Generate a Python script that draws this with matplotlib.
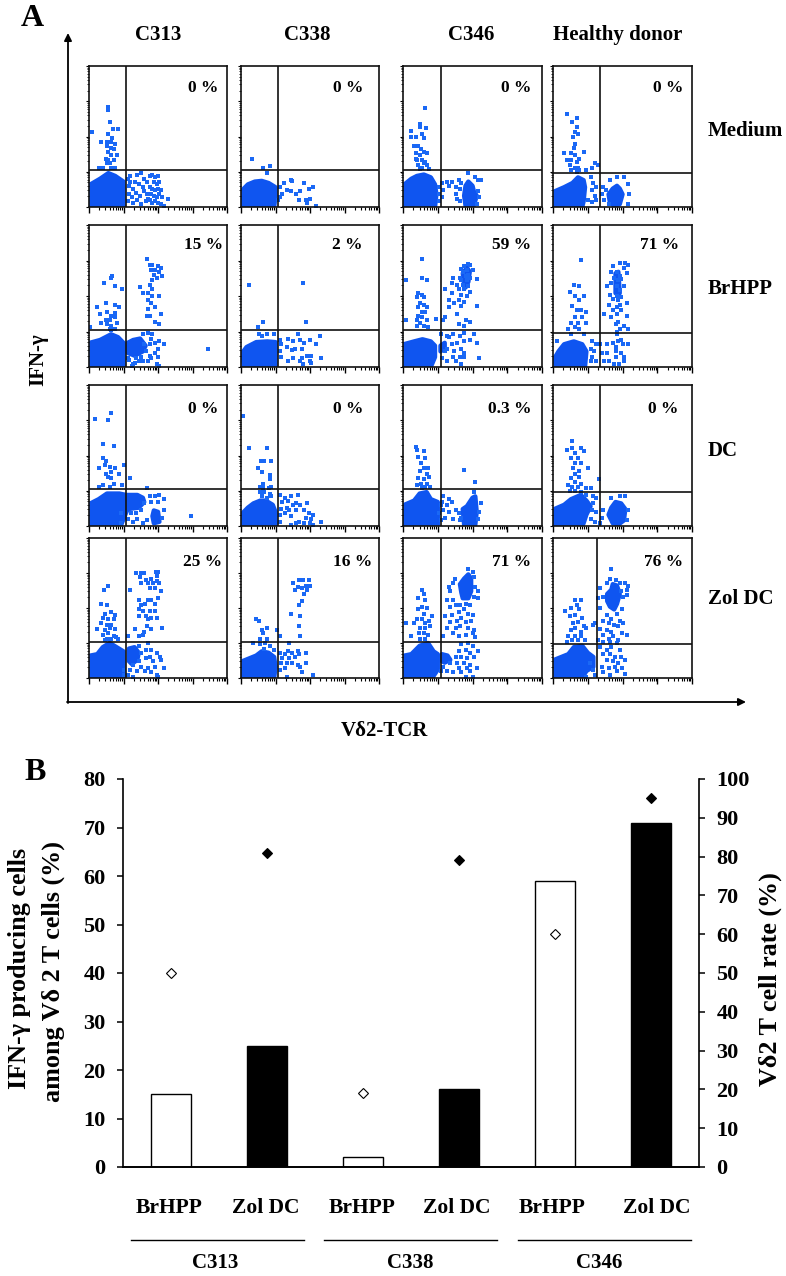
import numpy as np
import matplotlib
matplotlib.use("Agg")
import matplotlib.pyplot as plt

plt.rcParams['font.family'] = ['Liberation Serif', 'DejaVu Serif']
plt.rcParams['font.weight'] = 'bold'

W, H = 786, 1276
BLUE = "#0f55f0"

# ---- panel B values ----
cats = ["BrHPP", "Zol DC", "BrHPP", "Zol DC", "BrHPP", "Zol DC"]
groups = ["C313", "C338", "C346"]
ifn_pct = [15, 25, 2, 16, 59, 71]
vd2_rate = [50, 81, 19, 79, 60, 95]
bar_fill = ["white", "black", "white", "black", "white", "black"]

# ---- panel A labels ----
donors = ["C313", "C338", "C346", "Healthy donor"]
stimuli = ["Medium", "BrHPP", "DC", "Zol DC"]
pct_labels = [["0 %", "0 %", "0 %", "0 %"],
              ["15 %", "2 %", "59 %", "71 %"],
              ["0 %", "0 %", "0.3 %", "0 %"],
              ["25 %", "16 %", "71 %", "76 %"]]

# quadrant gates, in channel units 0-100
gate_x = [[26.5, 26.5, 27, 33.5], [26.5, 26.5, 27, 33.5],
          [26.5, 26.5, 27, 33.5], [26.5, 26.5, 27, 32]]
gate_y = [[26, 26, 26, 24], [26, 26, 26, 24], [26, 26, 26, 24], [26, 26, 26, 24]]

# ---- events (V-delta2 channel, IFN-g channel) ----
med_c313_blobs = [[(1,0),(1,16),(8,20),(14,24),(19,22),(25,18),(25,0)]]
med_c313_dots = [(14,71),(14,69),(15,60),(2,53),(17.6,55),(20.8,55),(14,52),(17,49),(9,46),(13,46),(16,46),(19,45),
    (13,43),(16,42),(18,41),(14,39),(20,37),(16,37),(12,34),(14,33),(18,33),(13,31),(15,31),(10,28),(16,28),(19,28),(7,28),
    (28,20),(30,22),(33,18),(35,23),(38,24),(29,15),(32,13),(36,16),(40,20),(42,18),(44,22),(46,23),(48,21),(50,22),(47,18),
    (49,16),(51,18),(44,14),(46,13),(48,12),(50,13),(52,12),(29,9),(31,7),(34,10),(37,8),(40,11),(42,9),(45,9),(47,8),(49,7),
    (51,9),(53,7),(28,4),(32,3),(35,5),(38,2),(41,4),(44,5),(46,3),(48,4),(50,3),(52,2),(54,1),(57,6),(30,18),(39,14),(43,6)]

med_c338_blobs = [[(1,2),(1,12),(5,16),(10,18),(15,18.5),(20,17),(25,14),(25,8),(24,0),(3,0)]]
med_c338_dots = [(8,34),(16,28),(21,29),(19,24),(28.5,14),(31,17),(36,19),(37,18.5),(33,12),(36,11),(40,9),(43,11),(46,17),
    (49,13),(52,14),(50,6),(47,5),(48,3),(54,1),(42,5),(28,7),(30,9),(27,5)]

med_c346_blobs = [[(1,0),(1,16),(6,20),(10,22),(15,23),(20,21),(23,16),(24,9),(23,0)],
    [(45,1),(44,8),(45,15),(47,18),(50,15),(51,11),(53,8),(51,1)]]
med_c346_dots = [(15.6,70),(12,59),(12,57),(16.5,56),(6,54),(6,50),(9.6,50),(13.7,52),(15,49),(8,43),(11,43),(13,41),(15,39),
    (9,38),(12,37),(17,38),(10,33),(14,33),(16,32),(11,30),(14,28),(17,30),(12.5,27),(19,27),(15,31),(9,34),(28,17),(32,18),
    (35,18),(40,19),(29,12),(33,15),(38,14),(41,13),(28,7),(38,9),(39,6),(41,4),(54,19),(56,19),(54,11),(55,7),(53,2),(26,14),
    (26,9),(26,4),(47,24),(52,21),(42,17)]

med_hd_blobs = [[(1,0),(1,11),(8,14),(14,17),(18,21),(22,19),(23,14),(22,4),(21,0)],
    [(41,3),(40,9),(43,13),(46,15),(48,13),(50,9),(48,2),(44,1)]]
med_hd_dots = [(10,66),(14,60),(17.6,63),(17,57),(16,53),(18,52),(14.5,50),(16,45),(15,42),(8,38),(13,38),(16,37),(22,39),
    (10,33),(13,33),(17,32),(19,34),(12,30),(16,28),(18,28),(13,26),(17,25),(19,26),(30,31),(32.5,30),(28,28),(24,26),(27,21),
    (29,17),(31,14),(28,12),(30,8),(25,5),(28,3.5),(31,5),(36,14),(35,9),(38,12),(37,5),(40,2),(54,16),(55,9),(54,2),(51,21),
    (41,19),(46,21)]

br_c313_blobs = [[(0.5,0),(0.5,17),(8,19),(16,23),(21,21),(25,17),(25,0)],
    [(28,10),(28,17),(32,19),(37,20),(41,15),(39,11),(33,8)]]
br_c313_dots = [(42,76),(44,72),(46,72),(50,71),(52,70),(45,68),(48,68),(51,67),(53,64),(47,65),(49,63),(46,61),(44,58),(37,56),
    (46,55),(43,52),(39,52),(46,50),(51,50),(43,47),(45,45),(48,42),(43,41),(52,37),(42,36),(44,36),(48,32),(51,30),
    (16,63),(17,64),(11,59),(19,57),(24,55),(12,45),(6,42),(19,44),(22,42),(8,37),(13,39),(19,38),(16,36),(12,33),(15,33),(19,35),
    (9,31),(13,30),(16,29),(20,31),(1,28),(15,27),(16,26),(19,27),(39,23),(43,24),(45,20),(48,17),(51,18),(54,16),(50,13),(48,10),
    (44,8),(41,11),(38,7),(39,4),(43,4),(45,6),(50,7),(49,2),(51,1),(32,2),(34,6),(29,5),(33,3),(36,4),(86,13),(28,6),(31,1),(40,16),
    (44,16),(46,23)]

br_c338_blobs = [[(1,10),(4,14),(11,17.5),(19,18),(25,17.5),(25,0),(2,0)]]
br_c338_dots = [(6,58),(45,59),(47,32),(16,32),(12,28),(13,23),(15,22),(19,23),(24,23),(28,19),(29,16),(28,11),(29,7),(34,20),
    (38,18),(41,23),(43,19),(46,17),(50,19),(57,22),(54,16),(37,12),(33,14),(39,13),(44,13),(34,4),(38,6),(44,6),(47.5,8),(51,8),
    (58,6),(50,4),(45,2),(43,4),(51,3)]

br_c346_blobs = [[(0.5,0),(0.5,16),(8,18),(14,19.5),(20,18),(23,15),(23,7),(20,0)],
    [(27,11),(27,15),(30,17),(30,13)],
    [(44,58),(43,66),(46,70),(48,67),(47,60),(45,56)]]
br_c346_dots = [(46.5,72.5),(48,72),(44,71),(42,69),(46,68.5),(50,68.5),(43,67),(47,65),(45,64),(41,63),(36,63),(48,62.5),(53,62),
    (42,61),(46,61),(35,59),(39,58),(43,58),(47,57),(30,55),(40,55),(44,55),(48,53),(35,52),(42,51),(46,50),(33,47),(40,47),(44,46),
    (37,45),(53,43),(42,43),(33,42),(39,37),(30,35),(45,33),(40,30),(44,29),(48,32),(29,33),(14,76),(14,63),(2,61),(17,61),(11,52),
    (14,51),(10,49),(15,49),(12,45),(15,44),(11,42),(17,42),(14,39),(16,39),(11,36),(14,35),(10,33),(17,33),(12,31),(15,29),(2,33),
    (18,28),(10,29),(24,34),(32,22),(36,23),(41,22),(44,24),(48,19),(51,23),(53,17),(44,18),(39,17),(35,16),(32,13),(42,13),(37,11),
    (30,11),(44,10),(41,7),(36,7),(44,7),(38,4),(32,4),(42,2),(55,6),(28,6),(33,21),(27,23)]

br_hd_blobs = [[(1,6),(4,11),(8,16),(15,18),(21,16),(24,11),(23,0),(2,0)],
    [(45,52),(45,66),(47,67),(48,52)]]
br_hd_dots = [(20,75.5),(52,73),(48,73),(54,72),(43,71),(51,69.5),(46,67),(42,67),(53,66),(48,64),(44,63),(47,61),(49,62),(42,59),
    (38.5,57),(46,57),(51,57),(48,54),(41,51),(46,50),(49,49),(43,48),(47,47),(40,44),(48,44),(53,45),(46,42),(43,40),(49,40),(37,37),
    (46,37),(53,36),(42,35),(47,32),(45,30),(51,29),(48,27),(54,27),(46,25),(15,58),(19,57),(12,53),(22,50),(16,50),(19,47),(14,43),
    (17,40),(20,40),(24,39),(21,35),(16,35),(13,31),(18,31),(16,28),(19,27),(13,23),(22,23),(11,27),(24,31),(3,18),(28,18),(31,16),
    (27,13),(29.5,11),(28,7),(31,4),(27,4),(34,16),(39,16),(43,17),(35.5,10),(39,10),(45,11),(47,18),(50,16),(45,14),(49,19),(49,10),
    (51,7),(45,7),(47.5,2),(51,4),(44,2),(54,16),(46,23),(40,4),(37,4)]

dc_c313_blobs = [[(1,0),(1,16),(7,19),(13,23),(22,23),(27,22),(35,22),(39,20),(40,17),(36,13),(28,12),(25,5),(23,0)],
    [(47,2),(46,7),(47,11),(50,10),(51,3)]]
dc_c313_dots = [(16,80),(14,75),(4.5,76),(10,58),(18,57),(10,48),(12,46),(7.5,41),(15,42),(11.5,43),(19,41),(25,43),(16,38),(12,37),
    (22,37),(14,35),(16,34),(30,34),(10,29),(7,28),(18,30),(24,29),(15,28),(74,7),(42,27),(54,19),(51,22),(48,21),(44,21),(40,16),
    (45,17),(50,17),(38,11),(34,9),(30.5,9),(28,5),(32,3),(35,5),(39,2),(42,4),(23,9),(23,2),(54,11),(53,6)]

dc_c338_blobs = [[(1,0),(1,9),(5,13),(9,16),(14,18),(18,18),(23,15),(25,10),(25,0)]]
dc_c338_dots = [(1.5,78),(6,55),(19,55),(14.5,46),(17,46),(22,46),(12,41),(15,38),(21,36),(21,33),(16,30),(14,28),(16,27),(20,27),
    (22,28),(14,24),(17,24),(21,23),(15,21),(19,20),(22,21),(28,22),(32,20),(36,21),(41,22),(30,17),(34,18),(38,15),(40,16),(43,15),
    (48,16),(29,12),(33,13),(35,11),(40,11),(46,11),(49.5,9),(52,8),(28,8),(32,9),(36,7),(47,6),(51,5),(58,3),(28,3),(42,3),(46,2),
    (50,2),(52,1),(36,1),(40,2)]

dc_c346_blobs = [[(1,0),(1,15),(8,18),(12,23),(17,24),(20,19),(25,17),(25,0)],
    [(44,1),(43,12),(46,14),(50,20),(52,21),(53,10),(52,1)]]
dc_c346_dots = [(9,56),(10,54),(15,53),(11,49),(16,48),(13,45),(15,41),(18,41),(12,39),(17,37),(19,35),(11,34),(15,33),(13,30),(17,30),
    (19.5,28),(10,29),(16,28),(14,27),(44,40),(52,31),(51,24),(29,21),(33,19),(28,17),(32,15),(35,17),(38,11),(29,11),(33,10),(40,9),
    (42,6),(30,6),(36,5),(41,4),(55,10),(54,5),(56,16),(27,4),(27,15),(26,9)]

dc_hd_blobs = [[(1,0),(1,12),(8,15),(13,19),(20,22),(24,18),(27,14),(24,8),(22,2),(21,0)],
    [(40,8),(42,13),(45,17),(49,16),(52,12),(51,4),(47,1),(43,2)]]
dc_hd_dots = [(14,60),(10,54),(14,55),(20,55),(22,53),(16,52),(13,48),(18,48),(16,45),(20,45),(25,41),(14.5,41),(19,39),(16,37),(13,34),
    (19,35),(16,31),(11,29),(20,30),(14,28),(18,28),(24,27),(27,27),(12,25),(16,25),(20,24),(33,33),(24,22),(29,21),(31,20),(29,16),
    (28,11),(31,10),(27,5),(30,3),(34,2),(36,11),(35,6),(52,21),(48,21),(54,11),(53,4),(42,20)]

zol_c313_blobs = [[(1,0),(1,16),(6,17),(10,22),(15,25),(20,22),(25,19),(25,0)],
    [(29,12),(29,21),(33,22),(36,18),(35,13),(31,10)]]
zol_c313_dots = [(34,75),(38,75),(40,75),(48.5,76),(50,76),(37,72),(41,70),(45,71),(49,73),(51,68),(38,68),(43,68),(46.5,68),(49,69),
    (44,64),(48,64),(52,62),(30,63),(45,56),(43,56),(50,57),(36,56),(48,53),(38,52),(40.5,53),(36,49),(39,48),(44,48),(48,48),(36,44),
    (41,44),(45,43),(49,43),(43,42),(42,37),(33,35),(40,33),(45,35),(53,36),(39,31),(36,30),(28,30),(14,66),(11,63),(9,53),(13,52),
    (11.5,46),(16,47),(19,45),(10,43),(14,42),(18,42),(9,39),(13,38),(16,38),(6,35),(11.5,34),(15,36),(19,35),(10,31),(14,32),(18,30),
    (13,28),(16,28),(21,28),(19.5,29),(11.5,27),(36,23),(43,25),(41,20),(45,20),(49,18),(51.5,15),(44,15),(38,18),(41,14),(36,12),
    (46.5,12),(52,13),(32,9.5),(38,8),(43,7),(48,8),(54,7),(30,6),(35,5),(40.5,5),(45,4),(49,2),(28.5,2),(32,1),(50,1),(25,6),(25,2)]

zol_c338_blobs = [[(1,0),(1,12),(6,14),(11,16),(15,19),(20,18),(24,15),(25,8),(24,0)]]
zol_c338_dots = [(42,70),(45,70),(49,70),(38,68),(41,65),(47,66),(50,66),(39,63),(44,64),(48,63),(46,60),(44,55),(42,52),(36,46),(43,44),
    (42,37),(43,30),(11,42),(13,41),(19,36),(15,34),(16,32),(26,34),(14,28),(19,28),(28,30),(9,25),(14,24),(17.5,25),(21,23),(16.5,21),
    (24,20),(28,18),(30,14),(35,25),(34,19),(37,18),(41,19),(47,18),(32,17),(35,14),(39,15),(42,17),(29,11),(33,11),(37,11),(41,9),
    (47,11),(28,6),(32,7),(43,8),(44,4),(52,2),(33,1)]

zol_c346_blobs = [[(1,0),(1,16),(6,17),(12,23),(18,25),(22,19),(25,17),(25,6),(21,0)],
    [(42,61),(41,67),(44,71),(47,74),(49,71),(49,62),(47,57),(43,57)],
    [(28,17),(32,16),(34,13),(30,11),(28,12)]]
zol_c346_dots = [(47,78),(50,76),(51,72),(33,65),(36,68),(37.5,71),(34,62),(52,65),(54,62),(32,56),(36,56),(51,58),(54,57),(34,51),(38,52),
    (41,52),(45,53),(48.5,52),(30,44),(35,45),(40,47),(44,49),(47,46),(50,45),(34,40),(39,41),(42,43),(45.5,40),(49,41),(32,36),(38,36),
    (41,37),(47,36),(51,34),(36,32),(40,30),(45,31),(50,32),(52,29),(29,30),(14,63),(15,60),(11,57),(16,56),(14,51),(11,49),(17,50),
    (15,46),(21,44),(10,42),(14,42),(18.5,41),(16,39),(8,39),(12.5,36),(16,36),(19.5,37),(11.5,32),(15,32),(6,30),(18,31),(12.5,28),
    (16,28),(2,39),(42,24),(47,25),(50,23),(40,19),(45,20),(48,18),(54,19),(38,15),(42,15),(46,14),(51,15),(39,11),(44,11),(48,9),
    (40,7),(46,7),(53,7),(34,11),(32,5),(36,4),(42,4),(48,5),(45,1),(50,1),(27,5),(29,8)]

zol_hd_blobs = [[(1,0),(1,13),(6,15),(11,17),(15,22),(21,23),(25,18),(29,15),(29,8),(24,5),(21,0)],
    [(39,55),(39,60),(42,63),(43,67),(46,66),(48,60),(46,53),(44,49),(41,51)]]
zol_hd_dots = [(42,78),(48,68),(45,70),(41,71),(38.5,68),(51.5,68),(54,66),(53,63),(49,62),(34,64),(32.5,57),(36,58),(50.5,58),(53,59),
    (34,50),(38.5,45),(42,42),(46,46),(49.5,49),(36,41),(40,39),(44,38),(48,41),(50.5,39),(30,39),(34,35),(38.5,34),(42,33),(47,37),
    (49.5,32),(36,31),(40,28),(43,30),(47,27),(53,31),(32.5,27),(36,26),(41,26),(46,25),(16,56),(20.5,56),(17,52),(8.5,48),(13,50),
    (19,49),(16,45),(21,43),(12,44),(18,40),(14.5,39),(22,37),(16,36),(13,34),(20,33),(24,36),(11,30),(16,30),(20.5,30),(14,27),(18,27),
    (23,27),(29,38),(10,26),(34,22),(38.5,20),(42,22),(48,20),(36,17),(41,17),(44.5,15),(49,15),(38.5,13),(43,12),(47,11),(52,13),(35,8),
    (40,7),(44.5,8),(49.5,7),(36,4),(41,2.5),(46,5),(52,3),(26.5,11),(29,6),(24,1),(30,2.5)]

all_blobs = [[med_c313_blobs, med_c338_blobs, med_c346_blobs, med_hd_blobs],
             [br_c313_blobs, br_c338_blobs, br_c346_blobs, br_hd_blobs],
             [dc_c313_blobs, dc_c338_blobs, dc_c346_blobs, dc_hd_blobs],
             [zol_c313_blobs, zol_c338_blobs, zol_c346_blobs, zol_hd_blobs]]
all_dots = [[med_c313_dots, med_c338_dots, med_c346_dots, med_hd_dots],
            [br_c313_dots, br_c338_dots, br_c346_dots, br_hd_dots],
            [dc_c313_dots, dc_c338_dots, dc_c346_dots, dc_hd_dots],
            [zol_c313_dots, zol_c338_dots, zol_c346_dots, zol_hd_dots]]

# ---- layout, pixels ----
col_edges = [(89, 227), (241, 379), (403, 542), (553, 692)]
row_edges = [(66, 207), (225, 367), (385, 526), (538, 678)]
pct_right = [[218, 363, 531, 683], [223, 363, 531, 679], [218, 363, 532, 678], [222, 372, 531, 683]]
pct_y = [88, 245, 409, 562]
title_x = [158, 307, 471, 618]
row_label_y = [131, 289, 451, 599]


def px_axes(left, right, top, bottom):
    return fig.add_axes([left / W, 1 - bottom / H, (right - left) / W, (bottom - top) / H])


fig = plt.figure(figsize=(W / 100, H / 100), dpi=100)

# log decade ticks of the flow plots
decades = np.arange(0, 100, 25)
minor = np.concatenate([d + 25 * np.log10(np.arange(2, 10)) for d in decades])
major = np.arange(0, 101, 25)

for r in range(4):
    for c in range(4):
        ax = px_axes(col_edges[c][0], col_edges[c][1], row_edges[r][0], row_edges[r][1])
        for poly in all_blobs[r][c]:
            xs, ys = zip(*poly)
            # thick round edge fattens the outline of the dense core
            ax.fill(xs, ys, facecolor=BLUE, edgecolor=BLUE, lw=3.2, joinstyle="round", zorder=1)
        xs, ys = zip(*all_dots[r][c])
        ax.scatter(xs, ys, s=5.5, marker="s", color="#1a68f5", linewidths=0, zorder=2)
        ax.axvline(gate_x[r][c], color="#111111", lw=1.2, zorder=3)
        ax.axhline(gate_y[r][c], color="#111111", lw=1.2, zorder=3)
        ax.set_xlim(0, 100)
        ax.set_ylim(0, 100)
        ax.set_xticks(major)
        ax.set_xticks(minor, minor=True)
        ax.set_yticks(major)
        ax.set_yticks(minor, minor=True)
        ax.tick_params(axis="x", which="major", length=4, width=1, labelbottom=False)
        ax.tick_params(axis="x", which="minor", length=2, width=0.8)
        ax.tick_params(axis="y", which="major", length=2, width=0.8, labelleft=False)
        ax.tick_params(axis="y", which="minor", length=1.2, width=0.6)
        for s in ax.spines.values():
            s.set_linewidth(1.2)
            s.set_color("#111111")

# panel B
ax = px_axes(123, 699, 779, 1167)
pos = np.arange(len(cats))
ax.bar(pos, ifn_pct, width=0.41, color=bar_fill, edgecolor="black", linewidth=1, zorder=2)
ax.set_xlim(-0.5, 5.5)
ax.set_ylim(0, 80)
ax.set_yticks(np.arange(0, 81, 10))
ax.set_xticks([])
ax.tick_params(axis="y", length=4.5, width=1.1, labelsize=16, pad=8)
ax.spines["top"].set_visible(False)
ax.spines["right"].set_visible(False)
ax.spines["left"].set_linewidth(1.2)
ax.spines["bottom"].set_linewidth(1.4)

ax2 = ax.twinx()
ax2.set_ylim(0, 100)
ax2.set_yticks(np.arange(0, 101, 10))
ax2.tick_params(axis="y", length=4.5, width=1.1, labelsize=16, pad=8)
ax2.spines["top"].set_visible(False)
ax2.spines["left"].set_visible(False)
ax2.spines["right"].set_linewidth(1.2)
ax2.spines["bottom"].set_visible(False)
for i in pos:
    ax2.plot(i, vd2_rate[i], marker="D", ms=4.6, mfc=bar_fill[i], mec="black", mew=0.8, ls="none", zorder=5)

# full figure layer for the axis arrows and free labels, in pixels
bg = fig.add_axes([0, 0, 1, 1], zorder=10)
bg.set_xlim(0, W)
bg.set_ylim(H, 0)
bg.axis("off")
arrow = dict(arrowstyle="-|>", color="black", lw=1.3, mutation_scale=11, shrinkA=0, shrinkB=0)
bg.annotate("", xy=(68, 33), xytext=(68, 703), arrowprops=arrow)
bg.annotate("", xy=(746, 702), xytext=(67, 702), arrowprops=arrow)

bg.text(32, 18, "A", fontsize=23, ha="center", va="center")
bg.text(35, 773, "B", fontsize=23, ha="center", va="center")
for x, name in zip(title_x, donors):
    bg.text(x, 35, name, fontsize=15, ha="center", va="center")
for y, name in zip(row_label_y, stimuli):
    bg.text(708, y, name, fontsize=15, ha="left", va="center")
for r in range(4):
    for c in range(4):
        bg.text(pct_right[r][c], pct_y[r], pct_labels[r][c], fontsize=12.5, ha="right", va="center")
bg.text(38, 360, "IFN-\u03b3", fontsize=15, rotation=90, ha="center", va="center")
bg.text(384, 731, "V\u03b42-TCR", fontsize=15, ha="center", va="center")

bg.text(20, 968, "IFN-\u03b3 producing cells", fontsize=18.8, rotation=90, ha="center", va="center")
bg.text(53, 971, "among V\u03b4 2 T cells (%)", fontsize=18.8, rotation=90, ha="center", va="center")
bg.text(770, 979, "V\u03b42 T cell rate (%)", fontsize=18.8, rotation=90, ha="center", va="center")

cat_x = [169, 266, 362, 457, 552, 657]
for x, name in zip(cat_x, cats):
    bg.text(x, 1208, name, fontsize=15.5, ha="center", va="center")
group_x = [(131, 304), (324, 497), (518, 691)]
group_label_x = [215, 410, 599]
for (x0, x1), x, name in zip(group_x, group_label_x, groups):
    bg.plot([x0, x1], [1240, 1240], color="black", lw=1)
    bg.text(x, 1263, name, fontsize=15, ha="center", va="center")

fig.savefig("out.png", dpi=100)
